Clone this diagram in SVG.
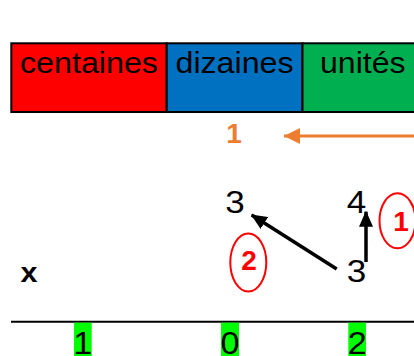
<svg xmlns="http://www.w3.org/2000/svg" width="414" height="356" viewBox="0 0 414 356">
  <defs>
    <style>
      .t { font-family: "Liberation Sans", Arial, sans-serif; fill: #000; }
      .cell { stroke: #000; stroke-width: 2; }
      .digit { font-family: "Liberation Sans", Arial, sans-serif; font-size: 31px; fill: #000; text-anchor: middle; }
      .mark { fill: none; stroke: #FF0000; stroke-width: 2; }
      .marktext { font-family: "Liberation Sans", Arial, sans-serif; font-weight: bold; font-size: 28px; fill: #FF0000; text-anchor: middle; }
      .hl { fill: #00FF00; }
    </style>
    <marker id="ahOrange" markerWidth="16" markerHeight="16" refX="16" refY="8" orient="auto" markerUnits="userSpaceOnUse">
      <path d="M0,0 L16,8 L0,16 Z" fill="#ED7D31"/>
    </marker>
    <marker id="ahBlack" markerWidth="16" markerHeight="14" refX="15" refY="7" orient="auto" markerUnits="userSpaceOnUse">
      <path d="M0,0 L16,7 L0,14 Z" fill="#000"/>
    </marker>
  </defs>

  <g id="table">
    <rect class="cell" x="11.3" y="43.3" width="155.4" height="68.7" fill="#FF0000"/>
    <rect class="cell" x="166.7" y="43.3" width="135.8" height="68.7" fill="#0070C0"/>
    <rect class="cell" x="302.5" y="43.3" width="130" height="68.7" fill="#00B050"/>
    <text class="t" x="20" y="73" font-size="29" textLength="138" lengthAdjust="spacingAndGlyphs">centaines</text>
    <text class="t" x="175.5" y="73" font-size="29" textLength="118" lengthAdjust="spacingAndGlyphs">dizaines</text>
    <text class="t" x="320" y="73" font-size="29" textLength="85.5" lengthAdjust="spacingAndGlyphs">unités</text>
  </g>

  <g id="carry">
    <text x="234" y="143.3" font-family="Liberation Sans, Arial, sans-serif" font-weight="bold" font-size="28" fill="#ED7D31" text-anchor="middle">1</text>
  </g>

  <g id="digits">
    <text class="digit" x="235" y="212.5" textLength="19.5" lengthAdjust="spacingAndGlyphs">3</text>
    <text class="digit" x="356.5" y="212.5" textLength="19.5" lengthAdjust="spacingAndGlyphs">4</text>
    <text class="digit" x="356.5" y="282" textLength="19.5" lengthAdjust="spacingAndGlyphs">3</text>
    <text x="29" y="282.3" font-family="Liberation Sans, Arial, sans-serif" font-weight="bold" font-size="27" text-anchor="middle" textLength="17" lengthAdjust="spacingAndGlyphs">x</text>
  </g>

  <g id="mark1">
    <ellipse class="mark" cx="397.5" cy="220.8" rx="18" ry="27.5"/>
    <text class="marktext" x="401" y="231">1</text>
  </g>
  <g id="mark2">
    <ellipse class="mark" cx="248.3" cy="262.5" rx="18" ry="29"/>
    <text class="marktext" x="249" y="270">2</text>
  </g>

  <g id="result">
    <line x1="11" y1="321.7" x2="414" y2="321.7" stroke="#000" stroke-width="2"/>
    <rect class="hl" x="74" y="322.7" width="17.7" height="40"/>
    <rect class="hl" x="221" y="322.7" width="18" height="40"/>
    <rect class="hl" x="348.3" y="322.7" width="17.7" height="40"/>
    <text class="digit" x="82.8" y="353.5" textLength="19" lengthAdjust="spacingAndGlyphs">1</text>
    <text class="digit" x="230" y="353.5" textLength="19" lengthAdjust="spacingAndGlyphs">0</text>
    <text class="digit" x="357.2" y="353.5" textLength="19" lengthAdjust="spacingAndGlyphs">2</text>
  </g>

  <g id="connectors">
    <line x1="420" y1="136" x2="284" y2="136" stroke="#ED7D31" stroke-width="3" marker-end="url(#ahOrange)"/>
    <line x1="336.7" y1="269" x2="251.7" y2="215" stroke="#000" stroke-width="3.5" marker-end="url(#ahBlack)"/>
    <line x1="366" y1="262" x2="366" y2="211.7" stroke="#000" stroke-width="3.5" marker-end="url(#ahBlack)"/>
  </g>
</svg>
